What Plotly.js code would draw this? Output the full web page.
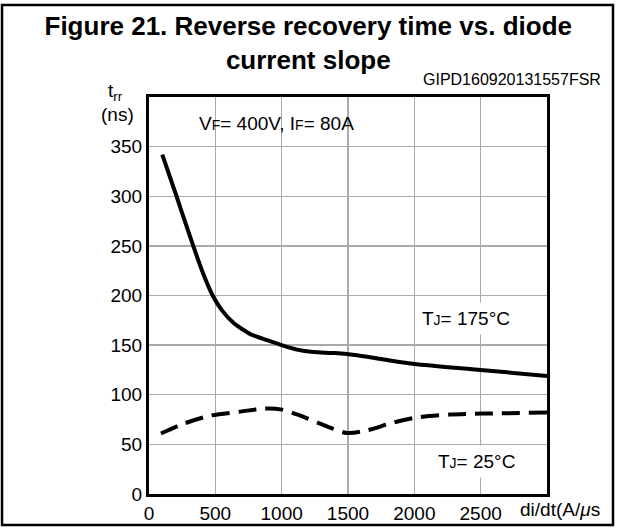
<!DOCTYPE html>
<html>
<head>
<meta charset="utf-8">
<script src="https://cdn.plot.ly/plotly-3.0.1.min.js"></script>
<style>
html,body{margin:0;padding:0;background:#fff;}
#chart{width:619px;height:529px;}
</style>
</head>
<body>
<div id="chart"></div>
<script>
// Data
var slopeHot = [100, 200, 300, 400, 480, 550, 640, 765, 890, 1000, 1115, 1240, 1400, 1550, 1750, 2000, 2500, 3000];
var trrHot   = [342, 303, 263, 225, 200, 185, 172, 161, 155, 150, 145.5, 143, 142, 140, 136, 131, 125, 119];
var slopeCold = [90, 265, 465, 690, 865, 1003, 1140, 1290, 1490, 1640, 1840, 2015, 2265, 2515, 3000];
var trrCold   = [61, 71, 79, 83, 86, 85, 79, 71, 61.5, 64, 72, 77, 80, 81, 82];
var xTickVals = [0, 500, 1000, 1500, 2000, 2500];
var xTickText = ['0', '500', '1000', '1500', '2000', '2500'];
var yTickVals = [0, 50, 100, 150, 200, 250, 300, 350];
var yTickText = ['0', '50', '100', '150', '200', '250', '300', '350'];
var labelHot = 'T<span style="font-size:14px">J</span>= 175°C';
var labelCold = 'T<span style="font-size:14px">J</span>= 25°C';
var condText = 'V<span style="font-size:14px">F</span>= 400V, I<span style="font-size:14px">F</span>= 80A';
var titleText = 'Figure 21. Reverse recovery time vs. diode<br>current slope';
var codeText = 'GIPD160920131557FSR';

var FONT = 'Liberation Sans, Arial, Helvetica, sans-serif';

var traces = [
  {x: slopeHot, y: trrHot, type: 'scatter', mode: 'lines',
   line: {color: '#000', width: 4, shape: 'spline', smoothing: 0.6}, hoverinfo: 'skip'},
  {x: slopeCold, y: trrCold, type: 'scatter', mode: 'lines',
   line: {color: '#000', width: 4, shape: 'spline', smoothing: 0.8, dash: '18px,9px'}, hoverinfo: 'skip'}
];

var axisCommon = {
  showline: true, mirror: true, linecolor: '#000', linewidth: 3,
  showgrid: true, gridcolor: '#aaaaaa', gridwidth: 1.3,
  zeroline: false, ticks: '', tickfont: {family: FONT, size: 19, color: '#000'},
  fixedrange: true
};

var layout = {
  width: 619, height: 529,
  margin: {l: 149, r: 72, t: 97, b: 35, pad: 0},
  paper_bgcolor: '#fff', plot_bgcolor: '#fff',
  showlegend: false,
  font: {family: FONT, color: '#000'},
  title: {
    text: '<b>' + titleText + '</b>',
    font: {family: FONT, size: 26, color: '#000'},
    x: 0.498, xanchor: 'center', xref: 'container',
    y: 0.933, yanchor: 'middle', yref: 'container'
  },
  xaxis: Object.assign({}, axisCommon, {
    range: [0, 3000], tickmode: 'array', tickvals: xTickVals, ticktext: xTickText
  }),
  yaxis: Object.assign({}, axisCommon, {
    range: [0, 400], tickmode: 'array', tickvals: yTickVals, ticktext: yTickText
  }),
  annotations: [
    {text: 't<sub>rr</sub>', xref: 'paper', yref: 'paper', x: -0.083, y: 1.012,
     xanchor: 'center', yanchor: 'middle', showarrow: false, font: {size: 19}},
    {text: '(ns)', xref: 'paper', yref: 'paper', x: -0.08, y: 0.957,
     xanchor: 'center', yanchor: 'middle', showarrow: false, font: {size: 19}},
    {text: condText, xref: 'paper', yref: 'paper', x: 0.12, y: 0.932,
     xanchor: 'left', yanchor: 'middle', showarrow: false, font: {size: 19}},
    {text: codeText, xref: 'paper', yref: 'paper', x: 1.1407, y: 1.043,
     xanchor: 'right', yanchor: 'middle', showarrow: false, font: {size: 16}},
    {text: labelHot, xref: 'paper', yref: 'paper', x: 0.672, y: 0.441,
     xanchor: 'left', yanchor: 'middle', showarrow: false, font: {size: 19},
     bgcolor: '#fff', borderpad: 5},
    {text: labelCold, xref: 'paper', yref: 'paper', x: 0.712, y: 0.083,
     xanchor: 'left', yanchor: 'middle', showarrow: false, font: {size: 19},
     bgcolor: '#fff', borderpad: 5},
    {text: 'di/dt(A/<i>μ</i>s', xref: 'paper', yref: 'paper', x: 0.927, y: -0.040,
     xanchor: 'left', yanchor: 'middle', showarrow: false, font: {size: 19}}
  ],
  shapes: [
    {type: 'rect', xref: 'paper', yref: 'paper', x0: -0.3693, x1: 1.1658, y0: -0.0781, y1: 1.2317,
     line: {color: '#000', width: 2.5}, fillcolor: 'rgba(0,0,0,0)', layer: 'above'}
  ]
};

Plotly.newPlot('chart', traces, layout, {displayModeBar: false, staticPlot: true});
</script>
</body>
</html>
